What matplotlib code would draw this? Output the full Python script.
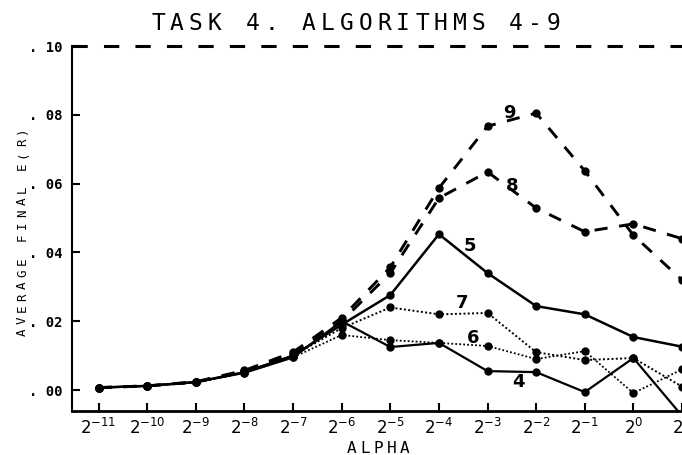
import matplotlib
matplotlib.use("Agg")
import matplotlib.pyplot as plt

# --- DATOS ---
# exponentes de alpha (eje x: 2^-11 ... 2^1)
alpha_exp = [-11, -10, -9, -8, -7, -6, -5, -4, -3, -2, -1, 0, 1]
tick_labels = [f"$2^{{{e}}}$" for e in alpha_exp]
ytick_vals = [0.00, 0.02, 0.04, 0.06, 0.08, 0.10]
ytick_labels = [". 00", ". 02", ". 04", ". 06", ". 08", ". 10"]

alg4 = [0.0007, 0.0012, 0.0023, 0.0050, 0.0095, 0.0200, 0.0125, 0.0137, 0.0055, 0.0052, -0.0006, 0.0093, -0.0075]
alg5 = [0.0007, 0.0012, 0.0023, 0.0052, 0.0100, 0.0190, 0.0276, 0.0453, 0.0340, 0.0244, 0.0220, 0.0154, 0.0126]
alg6 = [0.0007, 0.0012, 0.0022, 0.0050, 0.0095, 0.0160, 0.0145, 0.0137, 0.0128, 0.0090, 0.0113, -0.0009, 0.0060]
alg7 = [0.0007, 0.0012, 0.0023, 0.0052, 0.0100, 0.0180, 0.0240, 0.0220, 0.0224, 0.0110, 0.0087, 0.0093, 0.0010]
alg8 = [0.0007, 0.0012, 0.0023, 0.0055, 0.0105, 0.0200, 0.0340, 0.0558, 0.0634, 0.0529, 0.0460, 0.0483, 0.0440]
alg9 = [0.0007, 0.0012, 0.0024, 0.0057, 0.0110, 0.0210, 0.0357, 0.0587, 0.0767, 0.0805, 0.0637, 0.0450, 0.0320]

series = {"4": alg4, "5": alg5, "6": alg6, "7": alg7, "8": alg8, "9": alg9}
estilos = {
    "4": dict(ls="-", lw=1.6),
    "5": dict(ls="-", lw=1.8),
    "6": dict(ls=(0, (1, 1.2)), lw=1.3),
    "7": dict(ls=(0, (1, 1.2)), lw=1.4),
    "8": dict(ls=(0, (4.5, 4)), lw=2.1),
    "9": dict(ls=(0, (4.5, 4)), lw=2.1),
}
# posicion de las etiquetas numericas junto a cada curva
pos_etiq = {"4": (-2.36, 0.0023), "5": (-3.37, 0.0419), "6": (-3.29, 0.0151),
            "7": (-3.52, 0.0253), "8": (-2.50, 0.0593), "9": (-2.56, 0.0805)}

W, H = 682, 455
fig = plt.figure(figsize=(W / 100, H / 100), dpi=100)
ax = fig.add_axes([72 / W, (H - 411) / H, (W - 72) / W, (411 - 42.6) / H])

for k, vals in series.items():
    ax.plot(alpha_exp, vals, color="black", marker="o", ms=5,
            solid_capstyle="butt", dash_capstyle="butt", **estilos[k])
    x, y = pos_etiq[k]
    ax.text(x, y, k, fontsize=13, fontweight="bold", ha="center", va="center",
            family="DejaVu Sans")

# linea discontinua superior en .10
ax.axhline(0.10, color="black", lw=2.2, ls=(0, (5, 5.3)), dash_capstyle="butt")

ax.set_xlim(-11.548, 0.826)
ax.set_ylim(-0.0061, 0.101)
ax.set_xticks(alpha_exp)
ax.set_xticklabels(tick_labels, fontsize=12)
ax.set_yticks(ytick_vals)
ax.set_yticklabels(ytick_labels, fontsize=10, family="DejaVu Sans Mono", fontweight="bold")
ax.tick_params(direction="in", length=6, width=1.5)
ax.tick_params(axis="x", pad=5)
ax.tick_params(axis="y", pad=7)

for lado in ["top", "right"]:
    ax.spines[lado].set_visible(False)
ax.spines["bottom"].set_linewidth(2)
ax.spines["left"].set_linewidth(1.5)
ax.spines["left"].set_bounds(-0.0061, 0.10)


def texto_espaciado(s, centros, y, vertical=False, **kw):
    """Escribe cada caracter en su posicion (en pixeles) para imitar la letra del trazador."""
    for ch, c in zip(s, centros):
        if vertical:
            fig.text(y / W, 1 - c / H, ch, rotation=90, ha="center", va="center", **kw)
        else:
            fig.text(c / W, 1 - y / H, ch, ha="center", va="baseline", **kw)


fuente = dict(family="DejaVu Sans Mono", color="black")
titulo = "TASK 4. ALGORITHMS 4-9"
texto_espaciado(titulo, [158 + 18.85 * i for i in range(len(titulo))], 30, fontsize=16.5, **fuente)
texto_espaciado("ALPHA", [352 + 13.25 * i for i in range(5)], 453, fontsize=11.5, **fuente)
ylab = "AVERAGE FINAL E(R)"
texto_espaciado(ylab, [332.5 - 11.9 * i for i in range(len(ylab))], 22.5, vertical=True,
                fontsize=9, **fuente)

fig.savefig("out.png", dpi=100)
